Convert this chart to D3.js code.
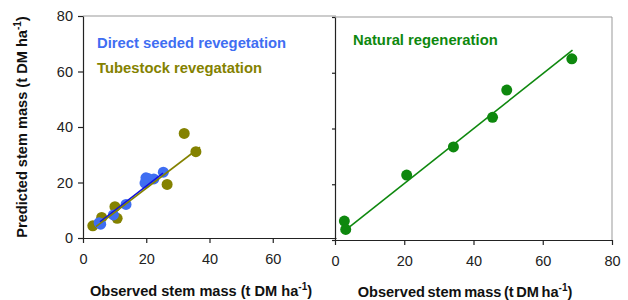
<!DOCTYPE html>
<html>
<head>
<meta charset="utf-8">
<script src="https://cdn.jsdelivr.net/npm/d3@7"></script>
<style>
  body { margin: 0; background: #fff; }
  text { font-family: "Liberation Sans", Arial, sans-serif; }
</style>
</head>
<body>
<div id="chart"></div>
<script>
// data
var directX = [5.1, 5.6, 9.6, 13.6, 19.6, 19.9, 20.6, 22.4, 25.4];
var directY = [5.5, 5.0, 8.3, 12.1, 19.8, 21.7, 21.4, 21.3, 23.7];
var tubeX = [3.1, 5.9, 10.1, 10.8, 26.6, 32.0, 35.7];
var tubeY = [4.4, 7.4, 11.3, 7.1, 19.3, 37.7, 31.1];
var naturalX = [2.7, 3.1, 20.7, 34.2, 45.5, 49.6, 68.4];
var naturalY = [6.8, 3.8, 23.3, 33.4, 44.0, 53.8, 65.0];

// fitted lines (end points)
var directFitX = [5.4, 25.3];
var directFitY = [5.8, 23.4];
var tubeFitX = [4.1, 37.0];
var tubeFitY = [4.1, 32.7];
var naturalFitX = [4.3, 68.6];
var naturalFitY = [4.8, 68.1];

var xTicksLeft = [0, 20, 40, 60];
var xTicksRight = [0, 20, 40, 60, 80];
var yTicks = [0, 20, 40, 60, 80];

var blue = "#3f6ef2", olive = "#848200", green = "#0e880e";

var svg = d3.select("#chart").append("svg")
  .attr("width", 628).attr("height", 300);

function zip(xs, ys) { return xs.map(function(v, i) { return {x: v, y: ys[i]}; }); }

// left panel scales
var xL = d3.scaleLinear().domain([0, 80]).range([83, 336]);
var yL = d3.scaleLinear().domain([0, 80]).range([238, 16]);
// right panel scales
var xR = d3.scaleLinear().domain([0, 80]).range([335, 612]);
var yR = d3.scaleLinear().domain([0, 80]).range([240, 17]);

// frames
svg.append("line").attr("x1", 83).attr("x2", 336).attr("y1", 16).attr("y2", 16)
  .attr("stroke", "#999").attr("stroke-width", 1);
svg.append("line").attr("x1", 335).attr("x2", 612).attr("y1", 17).attr("y2", 17)
  .attr("stroke", "#999").attr("stroke-width", 1);
svg.append("line").attr("x1", 612).attr("x2", 612).attr("y1", 17).attr("y2", 240)
  .attr("stroke", "#999").attr("stroke-width", 1);

function styleAxis(g) {
  g.selectAll("path").attr("stroke", "#222").attr("stroke-width", 1.2);
  g.selectAll("line").attr("stroke", "#222").attr("stroke-width", 1.2);
  g.selectAll("text").attr("fill", "#222").style("font-size", "14.5px")
    .style("font-family", "'Liberation Sans', Arial, sans-serif");
}

// left axes
svg.append("g").attr("transform", "translate(0,238)")
  .call(d3.axisBottom(xL).tickValues(xTicksLeft).tickSize(5).tickSizeOuter(0).tickPadding(11))
  .call(styleAxis);
svg.append("g").attr("transform", "translate(83,0)")
  .call(d3.axisLeft(yL).tickValues(yTicks).tickSize(5).tickSizeOuter(0).tickPadding(5))
  .call(styleAxis);

// right axes
svg.append("g").attr("transform", "translate(0,240)")
  .call(d3.axisBottom(xR).tickValues(xTicksRight).tickSize(5).tickSizeOuter(0).tickPadding(11))
  .call(styleAxis);
svg.append("g").attr("transform", "translate(335,0)")
  .call(d3.axisLeft(yR).tickValues(yTicks).tickSize(3).tickSizeOuter(0).tickFormat(""))
  .call(styleAxis);

var line = function(xs, ys) {
  return d3.line().x(function(d) { return xs(d.x); }).y(function(d) { return ys(d.y); });
};

// left points
svg.append("g").selectAll("circle").data(zip(tubeX, tubeY)).enter().append("circle")
  .attr("cx", function(d) { return xL(d.x); })
  .attr("cy", function(d) { return yL(d.y); })
  .attr("r", 5.5).attr("fill", olive);
svg.append("g").selectAll("circle").data(zip(directX, directY)).enter().append("circle")
  .attr("cx", function(d) { return xL(d.x); })
  .attr("cy", function(d) { return yL(d.y); })
  .attr("r", 5.5).attr("fill", blue);

svg.append("path").datum(zip(directFitX, directFitY))
  .attr("d", line(xL, yL)).attr("fill", "none").attr("stroke", "#1010e0").attr("stroke-width", 1.6);
svg.append("path").datum(zip(tubeFitX, tubeFitY))
  .attr("d", line(xL, yL)).attr("fill", "none").attr("stroke", olive).attr("stroke-width", 1.6);

// right points
svg.append("path").datum(zip(naturalFitX, naturalFitY))
  .attr("d", line(xR, yR)).attr("fill", "none").attr("stroke", green).attr("stroke-width", 1.6);
svg.append("g").selectAll("circle").data(zip(naturalX, naturalY)).enter().append("circle")
  .attr("cx", function(d) { return xR(d.x); })
  .attr("cy", function(d) { return yR(d.y); })
  .attr("r", 5.5).attr("fill", green);

// legend texts
svg.append("text").attr("x", 97).attr("y", 48).attr("fill", blue)
  .style("font-size", "14.8px").style("font-weight", "bold").text("Direct seeded revegetation");
svg.append("text").attr("x", 97).attr("y", 73).attr("fill", olive)
  .style("font-size", "14.8px").style("font-weight", "bold").text("Tubestock revegatation");
svg.append("text").attr("x", 353).attr("y", 45).attr("fill", green)
  .style("font-size", "14.8px").style("font-weight", "bold").text("Natural regeneration");

// axis titles
function unitLabel(sel, prefix) {
  sel.append("tspan").text(prefix + " (t DM ha");
  sel.append("tspan").attr("dy", -6).style("font-size", "10px").text("-1");
  sel.append("tspan").attr("dy", 6).text(")");
}
svg.append("text").attr("x", 201).attr("y", 296).attr("text-anchor", "middle")
  .attr("fill", "#111").style("font-size", "14.6px").style("font-weight", "bold")
  .call(unitLabel, "Observed stem mass");
svg.append("text").attr("x", 465).attr("y", 297).attr("text-anchor", "middle")
  .attr("fill", "#111").style("font-size", "14.6px").style("font-weight", "bold")
  .style("word-spacing", "-1.5px")
  .call(unitLabel, "Observed stem mass");
svg.append("text").attr("transform", "translate(27,127) rotate(-90)").attr("text-anchor", "middle")
  .attr("fill", "#111").style("font-size", "14.6px").style("font-weight", "bold")
  .call(unitLabel, "Predicted stem mass");
</script>
</body>
</html>
